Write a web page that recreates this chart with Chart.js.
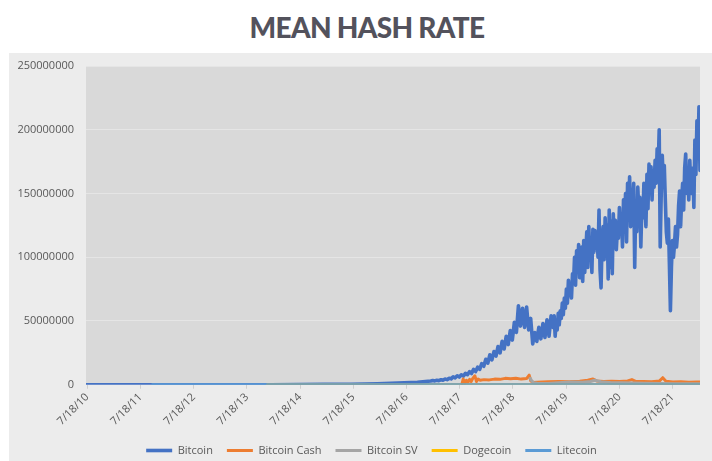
<!DOCTYPE html>
<html>
<head>
<meta charset="utf-8">
<script src="https://cdn.jsdelivr.net/npm/chart.js@4/dist/chart.umd.min.js"></script>
<style>
  body { margin: 0; width: 712px; height: 461px; background: #fff; position: relative; overflow: hidden; }
  #title {
    position: absolute; left: 11px; top: 13px; width: 712px; text-align: center;
    font-family: Lato, sans-serif; font-weight: 900; font-size: 28px; line-height: 28px;
    color: #53525c; letter-spacing: -0.7px;
  }
  #panel { position: absolute; left: 9px; top: 53px; width: 703px; height: 408px; background: #ececec; }
</style>
</head>
<body>
<div id="title">MEAN HASH RATE</div>
<div id="panel"><canvas id="hashChart" width="703" height="408"></canvas></div>
<script>
// x axis: decimal years, ticks on 7/18 of each year
const tickYears = [2010.545, 2011.545, 2012.545, 2013.545, 2014.545, 2015.545, 2016.545, 2017.545, 2018.545, 2019.545, 2020.545, 2021.545];
const tickLabels = ['7/18/10', '7/18/11', '7/18/12', '7/18/13', '7/18/14', '7/18/15', '7/18/16', '7/18/17', '7/18/18', '7/18/19', '7/18/20', '7/18/21'];

// all hash rates below in millions (TH/s)
const btcEarlyYears = [2010.52, 2011.0, 2011.5, 2012.0, 2012.5, 2013.0, 2013.5, 2014.0, 2014.5, 2015.0, 2015.5, 2016.0, 2016.5, 2016.75];
const btcEarlyValues = [0.0000001, 0.000002, 0.00001, 0.00001, 0.00002, 0.00002, 0.0002, 0.01, 0.1, 0.33, 0.4, 0.8, 1.5, 2.0];

// 1/1/2017 to spring 2019, one reading every 14 days
const btcMidStart = 2017.0;
const btcMidStepDays = 14;
const btcMidValues = [
    2.9, 3.3, 3.0, 3.5, 3.2, 3.9, 3.6, 4.4, 4.0, 5.0,
    4.6, 6.2, 5.4, 7.0, 6.0, 7.8, 6.8, 8.9, 7.9, 10.2,
    8.8, 12.0, 10.3, 13.8, 12.0, 16.5, 14.5, 20.0, 17.0, 23.5,
    19.5, 26.0, 22.5, 30.0, 25.0, 34.0, 28.0, 38.0, 31.5, 42.5,
    35.0, 49.0, 41.0, 62.0, 46.0, 60.0, 45.0, 61.0, 43.0, 52.0,
    32.0, 41.0, 34.0, 45.0, 36.0, 48.0, 37.0, 51.0, 38.0, 54.0
];

// spring 2019 to end, one reading every 7 days
const btcLateStart = 2019.3;
const btcLateStepDays = 7;
const btcLateValues = [
    45, 54, 38, 50, 43, 56, 47, 58, 52, 64,
    55, 68, 60, 75, 64, 82, 70, 79, 68, 87,
    80, 100, 78, 105, 90, 110, 84, 98, 108, 81,
    113, 88, 104, 120, 92, 124, 98, 115, 88, 122,
    104, 121, 108, 118, 100, 137, 90, 76, 112, 124,
    98, 131, 104, 125, 83, 137, 92, 128, 87, 134,
    110, 129, 106, 122, 115, 139, 118, 132, 108, 145,
    125, 150, 112, 158, 130, 163, 124, 150, 140, 158,
    92, 142, 120, 155, 137, 147, 108, 140, 131, 158,
    140, 124, 165, 138, 173, 150, 171, 145, 168, 155,
    176, 158, 185, 170, 200, 108, 150, 180, 160, 172,
    145, 120, 111, 130, 95, 58, 92, 113, 100, 110,
    124, 108, 118, 140, 152, 124, 145, 158, 137, 170,
    181, 150, 165, 145, 176, 155, 150, 170, 139, 192,
    165, 207, 180, 218, 168
];

const bchYears = [2017.59, 2017.61, 2017.64, 2017.67, 2017.70, 2017.73, 2017.76, 2017.79, 2017.83, 2017.86, 2017.89, 2017.93,
    2018.0, 2018.1, 2018.2, 2018.3, 2018.4, 2018.5, 2018.6, 2018.7, 2018.8, 2018.85, 2018.88, 2018.93,
    2019.0, 2019.2, 2019.4, 2019.6, 2019.8, 2019.95,
    2020.05, 2020.12, 2020.25, 2020.4, 2020.55, 2020.7, 2020.78, 2020.85,
    2021.0, 2021.15, 2021.3, 2021.36, 2021.42, 2021.55, 2021.7, 2021.85,
    2022.0, 2022.06];
const bchValues = [1.0, 4.5, 1.2, 3.5, 2.0, 4.2, 2.5, 5.0, 7.0, 2.5, 4.5, 3.5,
    4.0, 3.8, 4.4, 4.2, 5.0, 4.6, 5.0, 4.4, 4.8, 7.5, 3.0, 1.8,
    2.0, 2.3, 2.6, 2.4, 2.8, 3.5,
    4.5, 3.0, 2.6, 2.8, 2.5, 3.0, 4.0, 2.7,
    2.6, 2.4, 3.0, 5.5, 2.8, 2.2, 2.4, 2.0,
    2.2, 2.1];

const bsvYears = [2018.87, 2018.89, 2018.93, 2019.0, 2019.2, 2019.4, 2019.55, 2019.7, 2019.85, 2020.0,
    2020.08, 2020.2, 2020.4, 2020.6, 2020.8, 2021.0, 2021.3, 2021.6, 2021.9, 2022.06];
const bsvValues = [5.0, 3.5, 1.5, 1.2, 1.0, 1.5, 2.0, 2.2, 2.0, 2.5,
    3.5, 2.4, 1.6, 1.5, 1.3, 1.2, 1.0, 0.8, 0.8, 0.7];

const dogeYears = [2013.93, 2015.0, 2017.0, 2019.0, 2021.0, 2022.06];
const dogeValues = [0.00001, 0.00005, 0.0001, 0.0003, 0.0005, 0.0006];

const ltcYears = [2011.77, 2013.0, 2014.0, 2015.0, 2016.0, 2017.0, 2018.0, 2019.0, 2020.0, 2021.0, 2022.06];
const ltcValues = [0.0000001, 0.000001, 0.00001, 0.00002, 0.00003, 0.00005, 0.00015, 0.0003, 0.0002, 0.00025, 0.0004];

function toPoints(years, values) {
    return years.map((y, i) => ({ x: y, y: values[i] * 1000000 }));
}

const btcYears = btcEarlyYears
    .concat(btcMidValues.map((v, i) => btcMidStart + i * btcMidStepDays / 365.25))
    .concat(btcLateValues.map((v, i) => btcLateStart + i * btcLateStepDays / 365.25));
const btcValues = btcEarlyValues.concat(btcMidValues, btcLateValues);

// grey plot area behind the lines
const plotBackground = {
    id: 'plotBackground',
    afterLayout(chart) {
        // y labels hang left of the narrowed axis box, so widen its clip area
        chart.scales.y.left = 0;
    },
    beforeDraw(chart) {
        const { ctx, chartArea } = chart;
        ctx.save();
        ctx.fillStyle = '#d9d9d9';
        ctx.fillRect(chartArea.left, chartArea.top, chartArea.right - chartArea.left, chartArea.bottom - chartArea.top);
        ctx.restore();
    }
};

const lineSet = (label, color, points, order, width) => ({
    label: label,
    data: points,
    borderColor: color,
    backgroundColor: color,
    borderWidth: width,
    pointRadius: 0,
    tension: 0,
    borderJoinStyle: 'round',
    borderCapStyle: 'round',
    order: order
});

const textColor = '#595959';
const font = { family: "'Open Sans', sans-serif", size: 11 };

new Chart(document.getElementById('hashChart').getContext('2d'), {
    type: 'line',
    data: {
        datasets: [
            lineSet('Bitcoin', '#4472c4', toPoints(btcYears, btcValues), 5, 3.6),
            lineSet('Bitcoin Cash', '#ed7d31', toPoints(bchYears, bchValues), 4, 3),
            lineSet('Bitcoin SV', '#a5a5a5', toPoints(bsvYears, bsvValues), 3, 3),
            lineSet('Dogecoin', '#ffc000', toPoints(dogeYears, dogeValues), 2, 3),
            lineSet('Litecoin', '#5b9bd5', toPoints(ltcYears, ltcValues), 1, 3)
        ]
    },
    options: {
        responsive: false,
        animation: false,
        layout: { padding: { left: 34, top: 13, right: 12, bottom: -5 } },
        scales: {
            x: {
                type: 'linear',
                min: 2010.522,
                max: 2022.06,
                afterBuildTicks: (axis) => {
                    axis.ticks = tickYears.map(v => ({ value: v }));
                },
                afterFit: (axis) => {
                    axis.paddingLeft = 0;
                    axis.paddingRight = 0;
                    axis.height = axis.height + 1;
                },
                ticks: {
                    autoSkip: false,
                    minRotation: 45,
                    maxRotation: 45,
                    padding: 2,
                    color: textColor,
                    font: font,
                    callback: (value) => tickLabels[tickYears.indexOf(value)]
                },
                grid: { drawOnChartArea: false, drawTicks: true, tickLength: 4, color: '#cfcfcf' },
                border: { display: false }
            },
            y: {
                min: 0,
                max: 250000000,
                afterFit: (axis) => {
                    axis.width = 43;
                    axis.paddingTop = 0;
                    axis.paddingBottom = 0;
                },
                ticks: {
                    stepSize: 50000000,
                    padding: 12,
                    color: textColor,
                    font: font,
                    callback: (value) => String(value)
                },
                grid: { color: '#e5e5e5', drawTicks: false },
                border: { display: false }
            }
        },
        plugins: {
            legend: {
                position: 'bottom',
                labels: {
                    usePointStyle: true,
                    pointStyle: 'line',
                    pointStyleWidth: 26,
                    boxHeight: 11,
                    padding: 14,
                    color: textColor,
                    font: font,
                    sort: (a, b) => a.datasetIndex - b.datasetIndex
                }
            },
            tooltip: { enabled: false }
        }
    },
    plugins: [plotBackground]
});
</script>
</body>
</html>
